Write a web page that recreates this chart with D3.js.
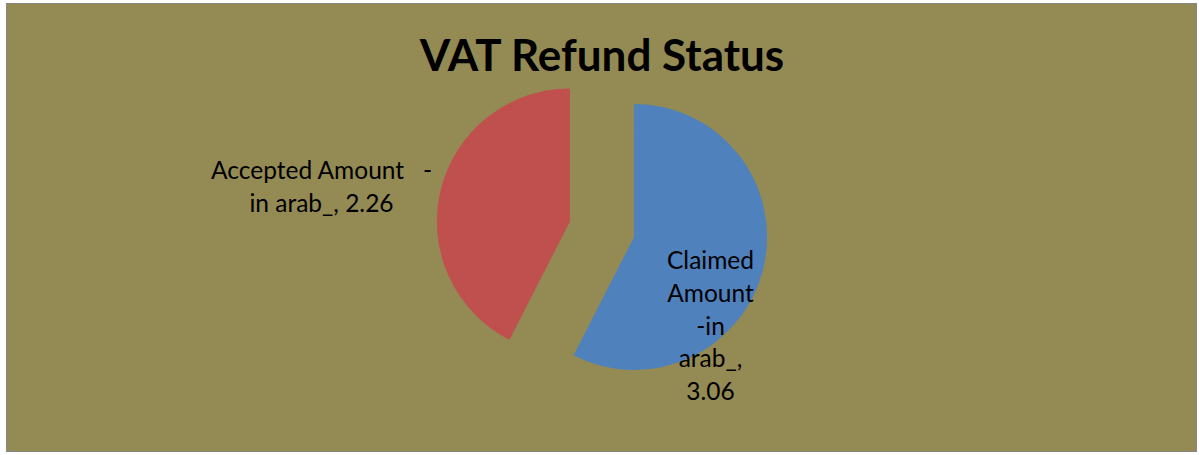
<!DOCTYPE html>
<html><head><meta charset="utf-8">
<script src="https://cdn.jsdelivr.net/npm/d3@7"></script>
<style>html,body{margin:0;padding:0;background:#fff;}svg{display:block;}</style>
</head><body>
<svg id="chart" width="1199" height="455"></svg>
<script>
const title = "VAT Refund Status";
const categories = ["Claimed Amount -in arab_", "Accepted Amount - in arab_"];
const values = [3.06, 2.26];
const colors = ["#4F81BD", "#C0504D"];
const labelLines = [
  ["Claimed", "Amount", "-in", "arab_,", "3.06"],
  ["Accepted Amount   -", "in arab_, 2.26"]
];

const svg = d3.select("#chart");
svg.append("rect").attr("x", 6.5).attr("y", 3.5).attr("width", 1190).attr("height", 448)
  .attr("fill", "#948A54").attr("stroke", "#868686").attr("stroke-width", 1);

svg.append("text").attr("x", 602).attr("y", 70.5).attr("text-anchor", "middle")
  .attr("font-family", "Lato, 'Open Sans', sans-serif").attr("font-weight", "bold")
  .attr("font-size", 44).attr("fill", "#000").text(title);

const cx = 602, cy = 229.2, R = 133, explode = 33;
const data = categories.map((c, i) => ({cat: c, value: values[i], color: colors[i], lines: labelLines[i]}));
const pie = d3.pie().sort(null).value(d => d.value).startAngle(0).endAngle(2 * Math.PI);
const arc = d3.arc().innerRadius(0).outerRadius(R);
const arcs = pie(data);

const g = svg.append("g").attr("transform", `translate(${cx},${cy})`);
g.selectAll("path").data(arcs).enter().append("path")
  .attr("d", arc)
  .attr("fill", d => d.data.color)
  .attr("transform", d => {
    const m = (d.startAngle + d.endAngle) / 2;
    return `translate(${explode * Math.sin(m)},${-explode * Math.cos(m)})`;
  });

// label positions relative to the pie centre
const labelPos = [
  {x: 710.5 - cx, y: 269.3 - cy, lh: 32.7},
  {x: 321.5 - cx, y: 179 - cy, lh: 33}
];
arcs.forEach((d, i) => {
  const p = labelPos[i];
  const t = g.append("text").attr("text-anchor", "middle")
    .attr("font-family", "Lato, 'Open Sans', sans-serif").attr("font-size", 24.5).attr("fill", "#000")
    .attr("xml:space", "preserve");
  d.data.lines.forEach((ln, j) => {
    t.append("tspan").attr("x", p.x).attr("y", p.y + j * p.lh).text(ln);
  });
});
</script>
</body></html>
